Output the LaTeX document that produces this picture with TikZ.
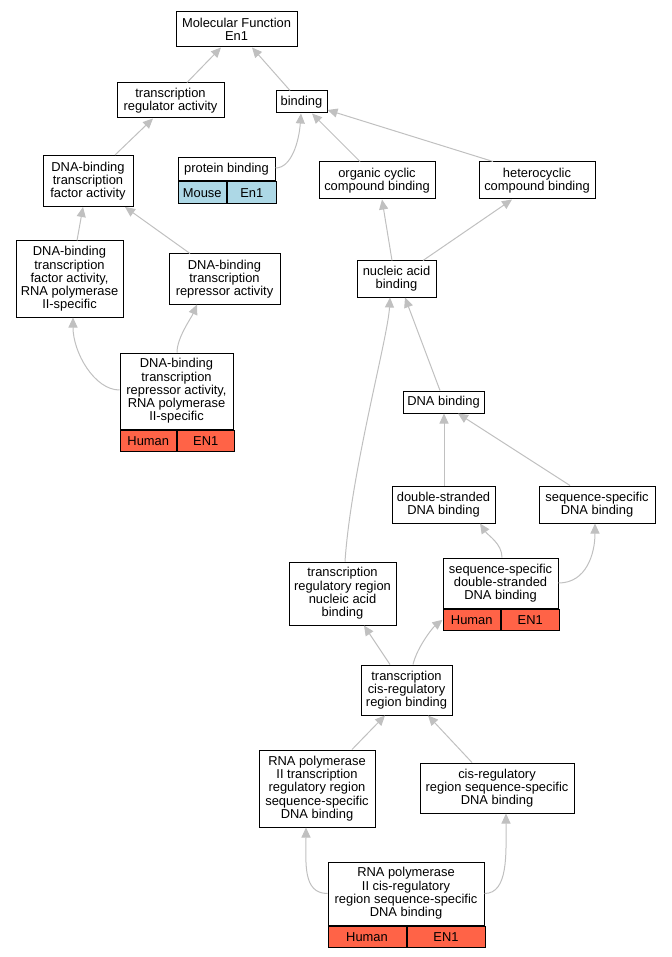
\documentclass[tikz,border=0pt]{standalone}
\usepackage{fontspec}
\setmainfont{Liberation Sans}
\usetikzlibrary{arrows.meta,positioning}
\definecolor{cTomato}{HTML}{FF6347}
\definecolor{cLBlue}{HTML}{ADD8E6}
\definecolor{cEdge}{HTML}{C0C0C0}
\tikzset{
  term/.style={draw=black, line width=1pt, fill=white, align=center, inner sep=0pt,
    font=\fontsize{12.9}{13.3}\selectfont},
  cell/.style={term, anchor=north west, minimum height=21.5},
  isa/.style={draw=cEdge, line width=1pt, -{Triangle[length=10pt,width=9pt]}},
}

\begin{document}
\begin{tikzpicture}[x=1pt,y=-1pt]
\useasboundingbox (0,0) rectangle (671,957);
%詞條
\node[term,minimum width=121,minimum height=35] (nMF) at (236.5,29.5) {Molecular Function\\En1};
\node[term,minimum width=107,minimum height=35] (nTRA) at (170.5,100.5) {transcription\\regulator activity};
\node[term,minimum width=51,minimum height=22] (nBind) at (301.5,102) {binding};
\node[term,minimum width=97,minimum height=23] (nProt) at (226.5,169.5) {protein binding};
\node[term,minimum width=90,minimum height=51] (nDTF) at (88,181) {DNA-binding\\transcription\\factor activity};
\node[term,minimum width=116,minimum height=37] (nOrg) at (377,180.5) {organic cyclic\\compound binding};
\node[term,minimum width=116,minimum height=37] (nHet) at (537,180.5) {heterocyclic\\compound binding};
\node[term,minimum width=107,minimum height=76] (nDTFPol) at (69.5,279) {DNA-binding\\transcription\\factor activity,\\RNA polymerase\\II-specific};
\node[term,minimum width=111,minimum height=50] (nRep) at (224.5,279) {DNA-binding\\transcription\\repressor activity};
\node[term,minimum width=113,minimum height=76] (nRepPol) at (176.5,391) {DNA-binding\\transcription\\repressor activity,\\RNA polymerase\\II-specific};
\node[term,minimum width=79,minimum height=36] (nNAB) at (396.5,279) {nucleic acid\\binding};
\node[term,minimum width=81,minimum height=22] (nDNAB) at (443.5,402) {DNA binding};
\node[term,minimum width=103,minimum height=37] (nDsDNA) at (443.5,504.5) {double-stranded\\DNA binding};
\node[term,minimum width=116,minimum height=37] (nSeqDNA) at (597,504.5) {sequence-specific\\DNA binding};
\node[term,minimum width=107,minimum height=63] (nTRRNA) at (342.5,593.5) {transcription\\regulatory region\\nucleic acid\\binding};
\node[term,minimum width=115,minimum height=50] (nSeqDs) at (500.5,583) {sequence-specific\\double-stranded\\DNA binding};
\node[term,minimum width=91,minimum height=50] (nTCis) at (406.5,690) {transcription\\cis-regulatory\\region binding};
\node[term,minimum width=116,minimum height=77] (nPolTRR) at (317,788.5) {RNA polymerase\\II transcription\\regulatory region\\sequence-specific\\DNA binding};
\node[term,minimum width=154,minimum height=50] (nCisSeq) at (497,788) {cis-regulatory\\region sequence-specific\\DNA binding};
\node[term,minimum width=156,minimum height=63] (nPolCis) at (406,893.5) {RNA polymerase\\II cis-regulatory\\region sequence-specific\\DNA binding};

%物種與基因
\foreach \v/\w/\a/\b/\c in {nRepPol/56.5/Human/EN1/cTomato,nSeqDs/57.5/Human/EN1/cTomato,
  nPolCis/78/Human/EN1/cTomato,nProt/48.5/Mouse/En1/cLBlue}
{
  \node[cell,fill=\c,minimum width=\w] (\v Sp) at (\v.south west) {\a};
  \node[cell,fill=\c,minimum width=\w] (\v Gn) at (\v Sp.north east) {\b};
};

%is_a
\draw[isa] ([xshift=16.5]nTRA.north) -- ([xshift=-15.5]nMF.south);
\draw[isa] ([xshift=-11.5]nBind.north) -- ([xshift=15.5]nMF.south);
\draw[isa] ([xshift=27]nDTF.north) -- ([xshift=-17.5]nTRA.south);
\draw[isa] ([yshift=1.5]nProt.east) .. controls +(16,0) and +(-2,28) .. ([xshift=-0.5]nBind.south);
\draw[isa] ([xshift=-17]nOrg.north) -- ([xshift=10.5]nBind.south);
\draw[isa] ([xshift=-44]nHet.north) -- ([yshift=-8]nBind.east);
\draw[isa] ([xshift=7.5]nDTFPol.north) -- ([xshift=-5]nDTF.south);
\draw[isa] ([xshift=-34.5]nRep.north) -- ([xshift=37]nDTF.south);
\draw[isa] ([yshift=1]nRepPol.west) .. controls +(-25,0) and +(0,35) .. ([xshift=3.5]nDTFPol.south);
\draw[isa] ([xshift=0.5]nRepPol.north) .. controls +(0,-15) and +(-6,14) .. ([xshift=-27.5]nRep.south);
\draw[isa] ([xshift=-4.5]nNAB.north) -- ([xshift=5]nOrg.south);
\draw[isa] ([xshift=26.5]nNAB.north) -- ([xshift=-25]nHet.south);
\draw[isa] ([xshift=-3.5]nDNAB.north) -- ([xshift=8.5]nNAB.south);
\draw[isa] ([xshift=2.5]nTRRNA.north) .. controls +(6,-90) and +(-2,40) .. ([xshift=-6.5]nNAB.south);
\draw[isa] ([xshift=0.5]nDsDNA.north) -- ([xshift=0.5]nDNAB.south);
\draw[isa] ([xshift=-27]nSeqDNA.north) -- ([xshift=14.5]nDNAB.south);
\draw[isa] ([xshift=1.5]nSeqDs.north) .. controls +(0,-14) and +(8,12) .. ([xshift=36.5]nDsDNA.south);
\draw[isa] (nSeqDs.east) .. controls +(28,0) and +(0,30) .. ([xshift=-2]nSeqDNA.south);
\draw[isa] ([xshift=-16.5]nTCis.north) -- ([xshift=21.5]nTRRNA.south);
\draw[isa] ([xshift=6.5]nTCis.north) .. controls +(4,-17) and +(-10,8) .. (nSeqDsSp.west);
\draw[isa] ([xshift=35]nPolTRR.north) -- ([xshift=-21.5]nTCis.south);
\draw[isa] ([xshift=-25]nCisSeq.north) -- ([xshift=21.5]nTCis.south);
\draw[isa] (nPolCis.west) .. controls +(-25,0) and +(0,35) .. ([xshift=-11]nPolTRR.south);
\draw[isa] (nPolCis.east) .. controls +(24,0) and +(0,40) .. ([xshift=9]nCisSeq.south);
\end{tikzpicture}
\end{document}
